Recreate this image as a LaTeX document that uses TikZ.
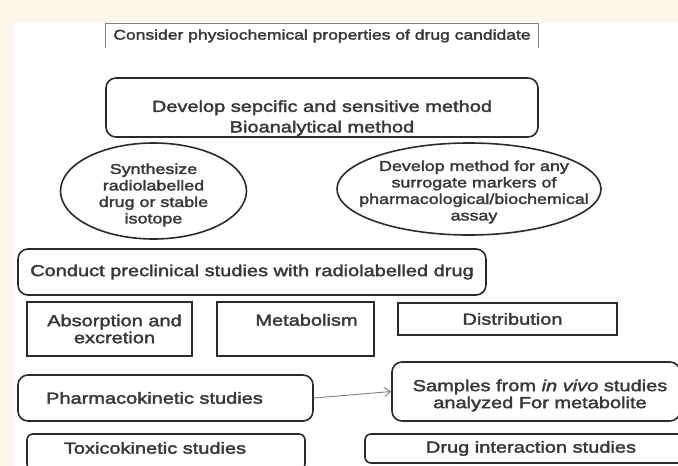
\documentclass[tikz,border=0pt]{standalone}
\usepackage{fontspec}
\setmainfont[FakeStretch=1.25,FakeBold=2.2]{Liberation Sans}
\usetikzlibrary{shapes.geometric,arrows.meta}
\definecolor{paper}{HTML}{FDF7EB}
\definecolor{ink}{HTML}{2A2A2A}
\definecolor{inktext}{HTML}{383838}
\tikzset{
    txt/.style={text=inktext,font=\fontsize{16}{17}\selectfont,align=center,inner sep=0pt},
    smalltxt/.style={txt,font=\fontsize{14.3}{16.5}\selectfont},
    box/.style={draw=ink,line width=1.6pt,inner sep=0pt},
    roundbox/.style={box,rounded corners=10pt},
    oval/.style={draw=ink,line width=1.6pt,ellipse,inner sep=0pt},
    topbox/.style={draw=gray,line width=0.9pt},
    link/.style={draw=gray,line width=0.9pt,-{Straight Barb[length=6pt,width=9pt]}}
}

\begin{document}
\begin{tikzpicture}[x=1pt,y=-1pt]
\useasboundingbox(0,0)rectangle(678,466);
\fill[paper](0,0)rectangle(678,466);
\fill[white,rounded corners=6pt](13,22)rectangle(700,490);

% top
\node[txt,font=\fontsize{14}{16}\selectfont,minimum width=432pt,minimum height=24pt] (consider) at (322,36) {Consider physiochemical properties of drug candidate};
\draw[topbox](consider.south west)|-(consider.north east)--(consider.south east);

\node[roundbox,minimum width=432pt,minimum height=59pt,
    label={[txt,font=\fontsize{16}{20.5}\selectfont,yshift=-10.5pt]center:{Develop sepcific and sensitive method\\Bioanalytical method}}] (develop) at (322,107.5) {};

% ellipses
\node[oval,minimum width=186pt,minimum height=96pt,
    label={[smalltxt,yshift=-4pt]center:{Synthesize\\radiolabelled\\drug or stable\\isotope}}] (synth) at (153.5,191) {};
\node[oval,minimum width=264pt,minimum height=92pt,
    label={[smalltxt,xshift=5pt,yshift=-3pt]center:{Develop method for any\\surrogate markers of\\pharmacological/biochemical\\assay}}] (markers) at (469,189) {};

% preclinical
\node[roundbox,txt,minimum width=468pt,minimum height=46pt] (conduct) at (252,272) {Conduct preclinical studies with radiolabelled drug};
\node[box,minimum width=165pt,minimum height=54pt,
    label={[txt,xshift=5pt]center:{Absorption and\\excretion}}] (absorb) at (109.5,329) {};
\node[box,minimum width=157pt,minimum height=54pt,
    label={[txt,xshift=11pt,yshift=9pt]center:{Metabolism}}] (metab) at (295.5,329) {};
\node[box,minimum width=219pt,minimum height=32pt,
    label={[txt,xshift=5pt]center:{Distribution}}] (distrib) at (507.5,319) {};

% studies
\node[roundbox,minimum width=295pt,minimum height=46pt,
    label={[txt,xshift=-11pt]center:{Pharmacokinetic studies}}] (pharma) at (165.5,398) {};
\node[roundbox,minimum width=288pt,minimum height=59pt,
    label={[txt,xshift=4pt,yshift=-4pt]center:{Samples from \textit{in vivo} studies\\analyzed For metabolite}}] (samples) at (536,391.5) {};
\node[roundbox,rounded corners=6pt,minimum width=278pt,minimum height=36pt,
    label={[txt,xshift=-11pt,yshift=4pt]center:{Toxicokinetic studies}}] (toxico) at (166,452) {};
\node[roundbox,rounded corners=6pt,minimum width=320pt,minimum height=29pt,
    label={[txt,xshift=6pt]center:{Drug interaction studies}}] (interact) at (525,448.5) {};

\draw[link](pharma.east)--(samples.west);
\end{tikzpicture}
\end{document}
